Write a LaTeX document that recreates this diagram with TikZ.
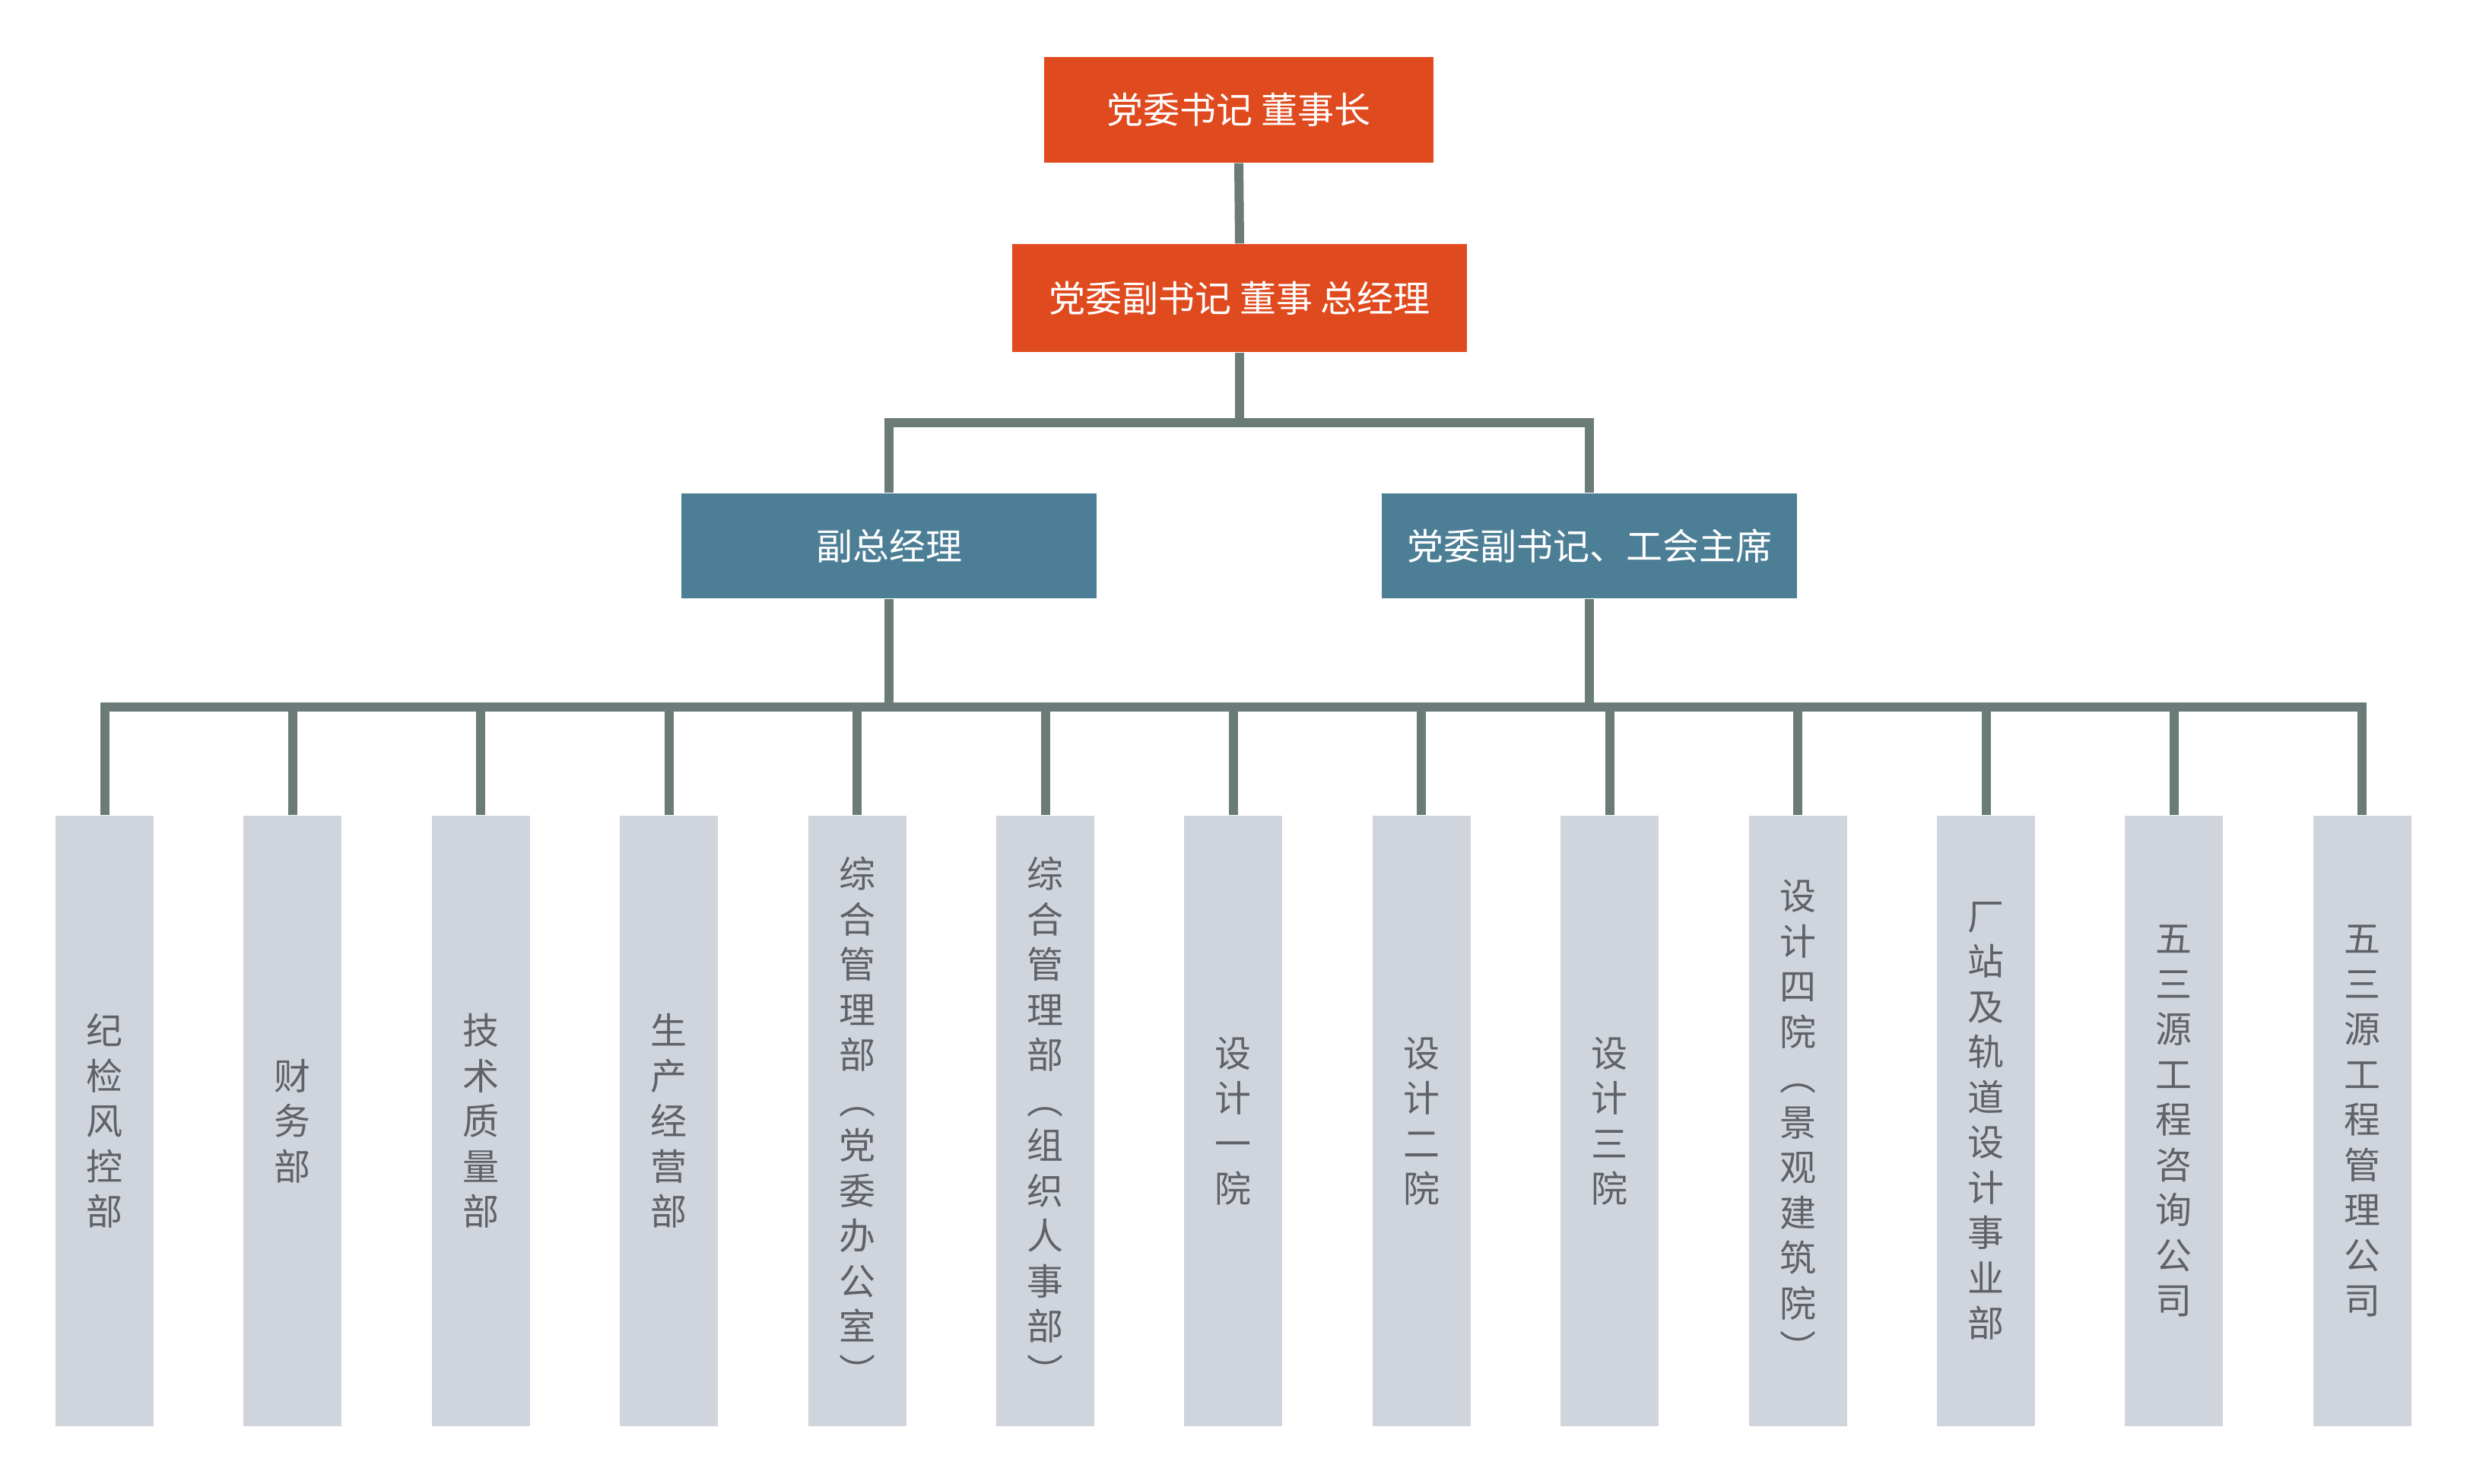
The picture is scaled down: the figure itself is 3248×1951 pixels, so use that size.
\documentclass[tikz,border=0pt]{standalone}
\usepackage{fontspec}
\setmainfont{Noto Sans CJK SC}
\definecolor{topred}{HTML}{E04A1F}
\definecolor{midblue}{HTML}{4C7F96}
\definecolor{connc}{HTML}{6B7B77}
\definecolor{leaffill}{HTML}{D0D4DC}
\definecolor{leaftext}{HTML}{5F6368}
\tikzset{
  topbox/.style={fill=topred, text=white, inner sep=0pt, font=\fontsize{14.4pt}{17pt}\selectfont},
  midbox/.style={fill=midblue, text=white, inner sep=0pt, minimum width=163.8pt, minimum height=41.4pt, font=\fontsize{14.4pt}{17pt}\selectfont},
  leafbox/.style={fill=leaffill, text=leaftext, inner sep=0pt, minimum width=38.7pt, minimum height=240.9pt, align=center, font=\fontsize{14.4pt}{17.85pt}\selectfont},
  conn/.style={draw=connc, line width=3.6pt}
}
\begin{document}
\begin{tikzpicture}[x=0.3pt, y=-0.3pt]
\useasboundingbox[fill=white] (0,0) rectangle (3248,1951);
% top levels
\node[topbox, minimum width=153.6pt, minimum height=41.7pt] (chair) at (1629,144.5) {党委书记 董事长};
\node[topbox, minimum width=179.4pt, minimum height=42.6pt] (gm) at (1630,392) {党委副书记 董事 总经理};
\node[midbox] (vp) at (1169,718) {副总经理};
\node[midbox] (vs) at (2090,718) {党委副书记、工会主席};
% leaves
\node[leafbox] (l1) at (137.5,1474.5) {纪\\检\\风\\控\\部};
\node[leafbox] (l2) at (384.9,1474.5) {财\\务\\部};
\node[leafbox] (l3) at (632.3,1474.5) {技\\术\\质\\量\\部};
\node[leafbox] (l4) at (879.7,1474.5) {生\\产\\经\\营\\部};
\node[leafbox] (l5) at (1127.1,1474.5) {综\\合\\管\\理\\部\\︵\\党\\委\\办\\公\\室\\︶};
\node[leafbox] (l6) at (1374.5,1474.5) {综\\合\\管\\理\\部\\︵\\组\\织\\人\\事\\部\\︶};
\node[leafbox] (l7) at (1621.9,1474.5) {设\\计\\一\\院};
\node[leafbox] (l8) at (1869.3,1474.5) {设\\计\\二\\院};
\node[leafbox] (l9) at (2116.7,1474.5) {设\\计\\三\\院};
\node[leafbox] (l10) at (2364.1,1474.5) {设\\计\\四\\院\\︵\\景\\观\\建\\筑\\院\\︶};
\node[leafbox] (l11) at (2611.5,1474.5) {厂\\站\\及\\轨\\道\\设\\计\\事\\业\\部};
\node[leafbox] (l12) at (2858.9,1474.5) {五\\三\\源\\工\\程\\咨\\询\\公\\司};
\node[leafbox] (l13) at (3106.3,1474.5) {五\\三\\源\\工\\程\\管\\理\\公\\司};
% helper coordinates
\coordinate (split) at (1630,556);
\coordinate (bus) at (1630,930);
% connectors
\draw[conn] (chair.south) -- (gm.north);
\draw[conn] (gm.south) -- (split);
\draw[conn] (vp.north) |- (split) -| (vs.north);
\draw[conn] (vp.south) -- (vp.south |- bus);
\draw[conn] (vs.south) -- (vs.south |- bus);
\draw[conn] (l1.north) |- (bus) -| (l13.north);
\foreach \i in {2,...,12} {
  \draw[conn] (l\i.north) -- (l\i.north |- bus);
}
\end{tikzpicture}
\end{document}
